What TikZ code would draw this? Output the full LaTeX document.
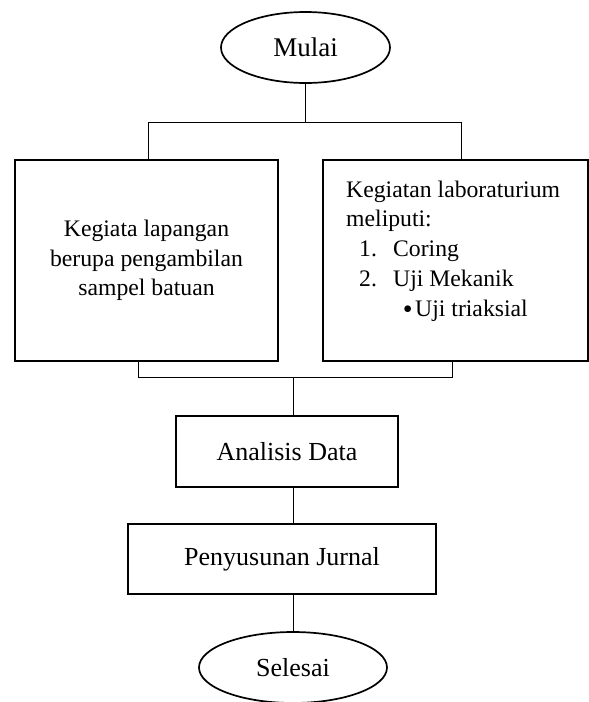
\documentclass[tikz,border=0pt]{standalone}
\usepackage{fontspec}
\setmainfont{Liberation Serif}
\usetikzlibrary{shapes.geometric}
\begin{document}
\begin{tikzpicture}[x=1pt,y=-1pt,
  oval/.style={draw, ellipse, line width=1.7pt, inner sep=0pt, minimum height=71pt, font=\fontsize{27}{30}\selectfont},
  box/.style={draw, rectangle, line width=1.8pt, inner sep=0pt, align=center},
  boxtext/.style={font=\fontsize{23.7}{29.5}\selectfont},
  bigtext/.style={font=\fontsize{26}{30}\selectfont},
  listline/.style={anchor=base west, inner sep=0pt, font=\fontsize{23.7}{30}\selectfont},
  conn/.style={line width=0.9pt},
  ]
\useasboundingbox (0,0) rectangle (589,702);
% nodes
\node[oval, minimum width=169pt] (mulai) at (305.5,47.5) {Mulai};
\node[box, boxtext, minimum width=263pt, minimum height=201pt] (kiri) at (146.5,260.5)
  {Kegiata lapangan\\berupa pengambilan\\sampel batuan};
\node[box, minimum width=265pt, minimum height=201pt] (kanan) at (455.5,260.5) {};
\node[listline] (r1) at (346,197) {Kegiatan laboraturium};
\node[listline] (r2) at (346,226) {meliputi:};
\node[listline] (r3) at (359,256) {\makebox[34pt][l]{1.}Coring};
\node[listline] (r4) at (359,286) {\makebox[34pt][l]{2.}Uji Mekanik};
\node[listline] (r5) at (400,316) {\makebox[15pt][c]{\raisebox{-2pt}{\fontsize{28}{30}\selectfont•}}Uji triaksial};
\node[box, bigtext, minimum width=222pt, minimum height=71pt] (analisis) at (287,451.5) {Analisis Data};
\node[box, bigtext, minimum width=308pt, minimum height=70pt] (jurnal) at (282,559) {Penyusunan Jurnal};
\node[oval, font=\fontsize{26}{30}\selectfont, minimum width=188pt] (selesai) at (293,667.5) {Selesai};
% junction points
\coordinate (top) at (305.5,122);
\coordinate (topL) at (148,122);
\coordinate (topR) at (461,122);
\coordinate (botL) at (138,377);
\coordinate (botR) at (452,377);
\coordinate (botM) at (293,377);
% connectors
\draw[conn] (mulai.south) -- (top);
\draw[conn] (topL) -- (topR);
\draw[conn] (topL) -- (topL |- kiri.north);
\draw[conn] (topR) -- (topR |- kanan.north);
\draw[conn] (botL |- kiri.south) -- (botL) -- (botR) -- (botR |- kanan.south);
\draw[conn] (botM) -- (botM |- analisis.north);
\draw[conn] (botM |- analisis.south) -- (botM |- jurnal.north);
\draw[conn] (botM |- jurnal.south) -- (selesai.north);
\end{tikzpicture}
\end{document}
